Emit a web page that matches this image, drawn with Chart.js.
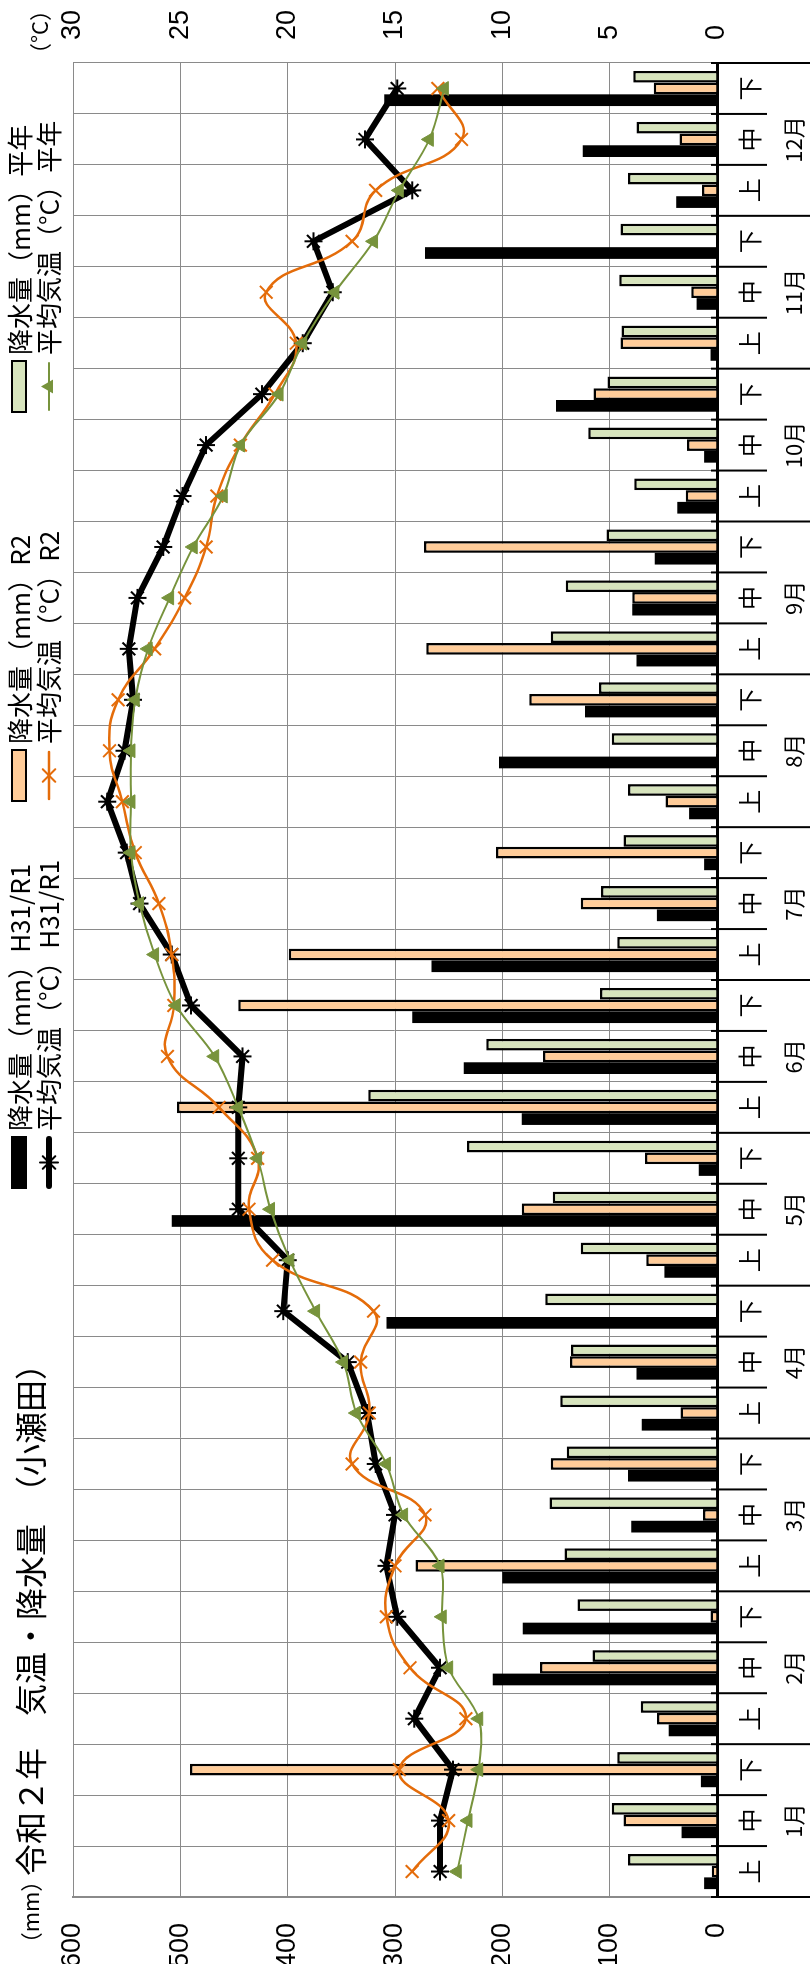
<!DOCTYPE html>
<html lang="ja">
<head>
<meta charset="utf-8">
<title>令和２年 気温・降水量（小瀬田）</title>
<script src="https://cdn.jsdelivr.net/npm/chart.js@4.4.1/dist/chart.umd.min.js"></script>
<style>
  html, body { margin: 0; padding: 0; background: #fff; overflow: hidden; }
  body { width: 810px; height: 1964px; position: relative; }
  /* the chart is drawn lying on its side and turned a quarter anticlockwise */
  #wrap { position: absolute; left: 0; top: 0; width: 1964px; height: 810px;
          transform-origin: 0 0; transform: translateY(1964px) rotate(-90deg); }
  #chart { width: 1964px; height: 810px; }
</style>
</head>
<body>
<div id="wrap"><canvas id="chart" width="1964" height="810"></canvas></div>
<script>
const months = ['1月', '2月', '3月', '4月', '5月', '6月', '7月', '8月', '9月', '10月', '11月', '12月'];
const thirds = ['上', '中', '下'];
const categories = months.flatMap(() => thirds);

// 降水量 (mm), 上旬〜下旬
const rainH31 = [12, 33, 15, 45, 209, 181, 200, 80, 83, 70, 75, 308,
                 49, 508, 17, 182, 236, 284, 266, 56, 12, 26, 203, 123,
                 75, 79, 58, 37, 12, 150, 6, 19, 272, 38, 125, 310];
const rainR2 = [5, 87, 491, 56, 165, 6, 281, 13, 155, 34, 137, 0,
                66, 182, 67, 503, 162, 446, 399, 127, 206, 48, 1, 175,
                271, 79, 273, 29, 28, 115, 90, 24, 0, 14, 35, 59];
const rainNormal = [83, 98, 93, 71, 116, 130, 142, 156, 140, 146, 136, 160,
                    127, 153, 233, 325, 215, 109, 93, 108, 87, 83, 98, 110,
                    155, 141, 103, 77, 120, 102, 89, 91, 90, 83, 75, 78];

// 平均気温 (°C)
const tempH31 = [12.9, 12.9, 12.3, 14.1, 12.9, 14.9, 15.4, 15.0, 15.9, 16.3, 17.2, 20.2,
                 20.0, 22.3, 22.3, 22.3, 22.1, 24.5, 25.4, 26.9, 27.5, 28.4, 27.6, 27.2,
                 27.4, 27.0, 25.8, 24.9, 23.8, 21.2, 19.3, 17.9, 18.8, 14.2, 16.4, 14.9];
const tempR2 = [14.2, 12.5, 14.8, 11.7, 14.3, 15.4, 15.0, 13.6, 17.0, 16.2, 16.6, 16.0,
                20.7, 21.8, 21.4, 23.2, 25.6, 25.3, 25.4, 26.0, 27.1, 27.7, 28.3, 27.9,
                26.2, 24.8, 23.8, 23.3, 22.2, 20.6, 19.6, 21.0, 17.0, 15.9, 11.9, 13.0];
const tempNormal = [12.1, 11.6, 11.1, 11.1, 12.5, 12.8, 12.9, 14.6, 15.4, 16.8, 17.4, 18.7,
                    19.9, 20.8, 21.4, 22.3, 23.4, 25.2, 26.2, 26.9, 27.3, 27.3, 27.3, 27.1,
                    26.5, 25.5, 24.4, 23.0, 22.2, 20.4, 19.3, 17.8, 16.0, 14.8, 13.4, 12.7];

const rainMax = 600, rainStep = 100;
const tempMax = 30, tempStep = 5;

const JP = '"Noto Sans CJK JP", "Noto Sans", sans-serif';
const NUM = '"Liberation Sans", Arial, sans-serif';
const GRID = '#8a8a8a';
const ORANGE = '#E46C0A', PEACH = '#FFCC99';
const OLIVE = '#77933C', SAGE = '#D7E4BD';

function drawMarker(ctx, style, x, y, r, color) {
  ctx.save();
  ctx.strokeStyle = color;
  ctx.fillStyle = color;
  ctx.lineWidth = 2;
  ctx.beginPath();
  if (style === 'triangle') {
    ctx.moveTo(x, y - r);
    ctx.lineTo(x + r * 0.87, y + r * 0.5);
    ctx.lineTo(x - r * 0.87, y + r * 0.5);
    ctx.closePath();
    ctx.fill();
  } else {
    const d = r * 0.7;
    ctx.moveTo(x - d, y - d); ctx.lineTo(x + d, y + d);
    ctx.moveTo(x + d, y - d); ctx.lineTo(x - d, y + d);
    if (style === 'star') {
      ctx.moveTo(x, y - r); ctx.lineTo(x, y + r);
      ctx.moveTo(x - r, y); ctx.lineTo(x + r, y);
    }
    ctx.stroke();
  }
  ctx.restore();
}

// category ticks, month labels, title, unit labels and the legend
const decor = {
  id: 'decor',
  afterDraw(chart) {
    const { ctx, chartArea: a, scales: { x } } = chart;
    const half = (x.getPixelForValue(1) - x.getPixelForValue(0)) / 2;
    ctx.save();

    ctx.strokeStyle = '#000';
    ctx.lineWidth = 2;
    for (let i = 0; i <= categories.length; i++) {
      const px = i < categories.length ? x.getPixelForValue(i) - half
                                       : x.getPixelForValue(i - 1) + half;
      ctx.beginPath();
      ctx.moveTo(px, a.bottom - 6);
      ctx.lineTo(px, i % 3 === 0 ? chart.height : a.bottom + 50);
      ctx.stroke();
    }

    ctx.fillStyle = '#000';
    ctx.textAlign = 'center';
    ctx.textBaseline = 'middle';
    ctx.font = '22px ' + JP;
    months.forEach((m, k) => ctx.fillText(m, x.getPixelForValue(k * 3 + 1), 794));

    ctx.textAlign = 'left';
    ctx.font = '32px ' + JP;
    ctx.fillText('令和２年　気温・降水量　（小瀬田）', 88, 31);
    ctx.textAlign = 'center';
    ctx.font = '22px ' + JP;
    ctx.fillText('（mm）', 52, 31);
    ctx.fillText('（°C）', 1932, 40);

    // legend: bars on the first row, lines on the second
    const ds = chart.data.datasets;
    const cols = [[3, 0], [4, 1], [5, 2]];
    const colX = [776, 1163, 1552];
    ctx.textAlign = 'left';
    ctx.font = '26px ' + JP;
    cols.forEach(([bi, li], c) => {
      const x0 = colX[c];
      const bar = ds[bi], line = ds[li];
      ctx.fillStyle = bar.backgroundColor;
      ctx.fillRect(x0, 12, 51, 14);
      ctx.strokeStyle = '#000';
      ctx.lineWidth = 2;
      ctx.strokeRect(x0, 12, 51, 14);
      ctx.fillStyle = '#000';
      ctx.fillText(bar.label, x0 + 57, 20);

      ctx.strokeStyle = line.borderColor;
      ctx.lineWidth = line.borderWidth;
      ctx.lineCap = 'round';
      ctx.beginPath();
      ctx.moveTo(x0 + 2, 49);
      ctx.lineTo(x0 + 49, 49);
      ctx.stroke();
      drawMarker(ctx, line.pointStyle, x0 + 25.5, 49, line.pointRadius, line.pointBorderColor);
      ctx.fillStyle = '#000';
      ctx.fillText(line.label, x0 + 57, 49);
    });
    ctx.restore();
  }
};

new Chart(document.getElementById('chart'), {
  type: 'bar',
  data: {
    labels: categories,
    datasets: [
      {
        type: 'line', label: '平均気温（°C）H31/R1', data: tempH31, yAxisID: 'y1', order: 3,
        borderColor: '#000', borderWidth: 6, tension: 0,
        pointStyle: 'star', pointRadius: 9, pointBorderWidth: 2,
        pointBorderColor: '#000', pointBackgroundColor: '#000'
      },
      {
        type: 'line', label: '平均気温（°C）R2', data: tempR2, yAxisID: 'y1', order: 2,
        borderColor: ORANGE, borderWidth: 2.5, tension: 0.45,
        pointStyle: 'crossRot', pointRadius: 9, pointBorderWidth: 2,
        pointBorderColor: ORANGE, pointBackgroundColor: ORANGE
      },
      {
        type: 'line', label: '平均気温（°C）平年', data: tempNormal, yAxisID: 'y1', order: 1,
        borderColor: OLIVE, borderWidth: 2, tension: 0.35,
        pointStyle: 'triangle', pointRadius: 8, pointBorderWidth: 1,
        pointBorderColor: OLIVE, pointBackgroundColor: OLIVE
      },
      {
        label: '降水量（mm）H31/R1', data: rainH31, yAxisID: 'y', order: 10,
        backgroundColor: '#000', borderColor: '#000', borderWidth: 0
      },
      {
        label: '降水量（mm）R2', data: rainR2, yAxisID: 'y', order: 10,
        backgroundColor: PEACH, borderColor: '#000', borderWidth: 2.5
      },
      {
        label: '降水量（mm）平年', data: rainNormal, yAxisID: 'y', order: 10,
        backgroundColor: SAGE, borderColor: '#000', borderWidth: 2.5
      }
    ]
  },
  options: {
    responsive: false,
    animation: false,
    devicePixelRatio: 1,
    layout: { padding: { top: 73, left: 0, right: 0, bottom: 0 } },
    datasets: { bar: { categoryPercentage: 0.69, barPercentage: 1.0 } },
    plugins: {
      legend: { display: false },
      title: { display: false },
      tooltip: { enabled: false }
    },
    scales: {
      x: {
        offset: true,
        grid: { offset: true, color: GRID, lineWidth: 1, drawTicks: false },
        border: { color: '#000', width: 3 },
        ticks: { color: '#000', padding: 18, maxRotation: 0, autoSkip: false,
                 font: { family: JP, size: 24 } },
        afterFit(s) { s.height = 93; s.paddingLeft = 0; s.paddingRight = 0; }
      },
      y: {
        position: 'left', min: 0, max: rainMax,
        grid: { color: GRID, lineWidth: 1, drawTicks: false },
        border: { color: GRID, width: 2 },
        ticks: { stepSize: rainStep, color: '#000', padding: 26, font: { family: NUM, size: 27 } },
        afterFit(s) { s.width = 67; s.paddingTop = 0; s.paddingBottom = 0; }
      },
      y1: {
        position: 'right', min: 0, max: tempMax,
        grid: { drawOnChartArea: false, drawTicks: false },
        border: { color: GRID, width: 1 },
        ticks: { stepSize: tempStep, color: '#000', padding: 23, font: { family: NUM, size: 27 } },
        afterFit(s) { s.width = 63; s.paddingTop = 0; s.paddingBottom = 0; }
      }
    }
  },
  plugins: [decor]
});
</script>
</body>
</html>
